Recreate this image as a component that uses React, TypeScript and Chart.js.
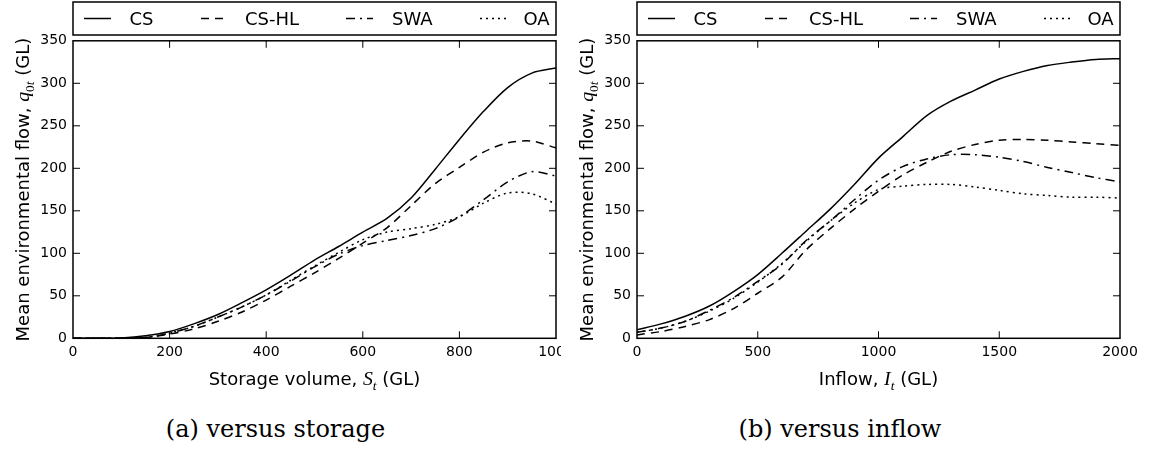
import React, { useEffect, useRef } from "react";
import { Chart, registerables } from "chart.js";

Chart.register(...registerables);

// ---------------- data ----------------
const seriesNames = ["CS", "CS-HL", "SWA", "OA"];

// (a) versus storage
const storageX = [0, 50, 100, 150, 200, 250, 300, 350, 400, 450, 500, 550, 600, 650, 700, 750, 800, 850, 900, 950, 1000];
const storageCS = [0, 0, 0.5, 3, 8, 17, 28, 42, 57, 74, 92, 108, 125, 141, 165, 199, 234, 267, 295, 312, 318];
const storageCSHL = [0, 0, 0, 1, 5, 11, 20, 31, 45, 61, 77, 94, 112, 130, 156, 182, 201, 219, 230, 232, 224];
const storageSWA = [0, 0, 0, 1, 6, 14, 25, 37, 51, 67, 84, 99, 109, 115, 121, 129, 143, 163, 184, 196, 191];
const storageOA = [0, 0, 0, 1, 6, 14, 25, 37, 51, 68, 85, 101, 116, 125, 129, 134, 143, 159, 171, 170, 158];

// (b) versus inflow
const inflowX = [0, 100, 200, 300, 400, 500, 600, 700, 800, 900, 1000, 1100, 1200, 1300, 1400, 1500, 1600, 1700, 1800, 1900, 2000];
const inflowCS = [10, 17, 26, 38, 55, 75, 100, 126, 152, 181, 212, 237, 262, 279, 292, 305, 314, 321, 325, 328, 329];
const inflowCSHL = [4, 8, 14, 22, 35, 53, 72, 104, 129, 152, 173, 192, 207, 220, 228, 233, 234, 233, 231, 229, 227];
const inflowSWA = [7, 12, 20, 33, 48, 67, 87, 115, 138, 163, 186, 202, 211, 216, 216, 213, 208, 201, 195, 189, 184];
const inflowOA = [7, 12, 20, 32, 47, 66, 88, 114, 138, 159, 175, 179, 181, 181, 178, 174, 170, 168, 166, 166, 165];

// tick labels
const storageTicks = [0, 200, 400, 600, 800, 1000];
const inflowTicks = [0, 500, 1000, 1500, 2000];
const flowTicks = [0, 50, 100, 150, 200, 250, 300, 350];

const captionA = "(a) versus storage";
const captionB = "(b) versus inflow";

// ---------------- styles ----------------
const DASHES = [[], [8, 6], [9, 5, 2, 5], [2, 4]];
const SANS = '"DejaVu Sans"';
const SAMPLE_OFF = [11, 128, 273, 407];
const TEXT_OFF = [56.5, 172, 319, 450.5];

type Seg = { t: string; k: "n" | "i" | "s" | "su" };

function segFont(k: string, size: number) {
  if (k === "n") return `${size}px ${SANS}`;
  if (k === "i") return `italic ${size * 1.1}px "Liberation Serif"`;
  if (k === "s") return `italic ${size * 0.75}px "Liberation Serif"`;
  return `${size * 0.75}px "Liberation Serif"`;
}

function drawRich(ctx: CanvasRenderingContext2D, segs: Seg[], size: number, cx: number, cy: number) {
  let w = 0;
  const widths = segs.map((s) => {
    ctx.font = segFont(s.k, size);
    const m = ctx.measureText(s.t).width;
    w += m;
    return m;
  });
  let x = cx - w / 2;
  segs.forEach((s, i) => {
    ctx.font = segFont(s.k, size);
    const dy = s.k === "s" || s.k === "su" ? size * 0.28 : 0;
    ctx.fillText(s.t, x, cy + dy);
    x += widths[i];
  });
}

const decorPlugin = {
  id: "mplDecor",
  afterDraw(chart: any, _args: any, opts: any) {
    const { ctx, chartArea: a, scales } = chart;
    const xs = scales.x;
    const ys = scales.y;
    ctx.save();
    ctx.strokeStyle = "#000";
    ctx.fillStyle = "#000";
    const TL = 7;
    ctx.lineWidth = 1;
    ctx.beginPath();
    xs.ticks.forEach((t: any) => {
      const px = xs.getPixelForValue(t.value);
      if (px <= a.left + 1 || px >= a.right - 1) return;
      ctx.moveTo(px, a.bottom);
      ctx.lineTo(px, a.bottom - TL);
      ctx.moveTo(px, a.top);
      ctx.lineTo(px, a.top + TL);
    });
    ys.ticks.forEach((t: any) => {
      const py = ys.getPixelForValue(t.value);
      if (py <= a.top + 1 || py >= a.bottom - 1) return;
      ctx.moveTo(a.left, py);
      ctx.lineTo(a.left + TL, py);
      ctx.moveTo(a.right, py);
      ctx.lineTo(a.right - TL, py);
    });
    ctx.stroke();
    ctx.lineWidth = 1.5;
    ctx.strokeRect(a.left, a.top, a.right - a.left, a.bottom - a.top);

    // legend
    const lt = 2;
    const lb = 35;
    ctx.strokeRect(a.left, lt, a.right - a.left, lb - lt);
    const midY = (lt + lb) / 2;
    chart.data.datasets.forEach((ds: any, i: number) => {
      const sx = a.left + SAMPLE_OFF[i];
      ctx.setLineDash(ds.borderDash || []);
      ctx.lineWidth = ds.borderWidth;
      ctx.beginPath();
      ctx.moveTo(sx, midY);
      ctx.lineTo(sx + 27, midY);
      ctx.stroke();
      ctx.setLineDash([]);
      ctx.font = `18px ${SANS}`;
      ctx.textAlign = "left";
      ctx.textBaseline = "alphabetic";
      ctx.fillText(ds.label, a.left + TEXT_OFF[i], midY + 6.5);
    });

    // axis titles
    ctx.textAlign = "left";
    ctx.textBaseline = "alphabetic";
    drawRich(ctx, opts.xTitle, 18, (a.left + a.right) / 2, a.bottom + 47);
    ctx.translate(a.left - 44, (a.top + a.bottom) / 2);
    ctx.rotate(-Math.PI / 2);
    drawRich(ctx, opts.yTitle, 18, 0, 0);
    ctx.restore();
  },
};

function makeConfig(
  xVals: number[],
  series: number[][],
  xMax: number,
  xTicks: number[],
  xTitle: Seg[],
  yTitle: Seg[],
  padding: any,
  yAxisW: number
): any {
  const tickFont = { family: "DejaVu Sans", size: 14 };
  return {
    type: "line",
    data: {
      datasets: series.map((ys, i) => ({
        label: seriesNames[i],
        data: xVals.map((x, j) => ({ x, y: ys[j] })),
        borderColor: "#000",
        borderWidth: 1.5,
        borderDash: DASHES[i],
        borderCapStyle: "butt",
        pointRadius: 0,
        fill: false,
        tension: 0.3,
      })),
    },
    options: {
      responsive: false,
      animation: false,
      events: [],
      layout: { padding },
      plugins: {
        legend: { display: false },
        tooltip: { enabled: false },
        mplDecor: { xTitle, yTitle },
      },
      scales: {
        x: {
          type: "linear",
          min: 0,
          max: xMax,
          afterBuildTicks: (s: any) => {
            s.ticks = xTicks.map((v) => ({ value: v }));
          },
          afterFit: (s: any) => {
            s.height = 20;
          },
          grid: { display: false, drawTicks: false, tickLength: 0 },
          border: { display: false },
          ticks: {
            color: "#000",
            font: tickFont,
            padding: 6,
            maxRotation: 0,
            autoSkip: false,
            callback: (v: any) => String(v),
          },
        },
        y: {
          type: "linear",
          min: 0,
          max: 350,
          afterBuildTicks: (s: any) => {
            s.ticks = flowTicks.map((v) => ({ value: v }));
          },
          afterFit: (s: any) => {
            s.width = yAxisW;
          },
          grid: { display: false, drawTicks: false, tickLength: 0 },
          border: { display: false },
          ticks: {
            color: "#000",
            font: tickFont,
            padding: 6,
            autoSkip: false,
            callback: (v: any) => String(v),
          },
        },
      },
    },
    plugins: [decorPlugin],
  };
}

const yTitleSegs: Seg[] = [
  { t: "Mean environmental flow, ", k: "n" },
  { t: "q", k: "i" },
  { t: "0", k: "su" },
  { t: "t", k: "s" },
  { t: " (GL)", k: "n" },
];
const xTitleA: Seg[] = [
  { t: "Storage volume, ", k: "n" },
  { t: "S", k: "i" },
  { t: "t", k: "s" },
  { t: " (GL)", k: "n" },
];
const xTitleB: Seg[] = [
  { t: "Inflow, ", k: "n" },
  { t: "I", k: "i" },
  { t: "t", k: "s" },
  { t: " (GL)", k: "n" },
];

export default function App() {
  const refA = useRef<HTMLCanvasElement>(null);
  const refB = useRef<HTMLCanvasElement>(null);

  useEffect(() => {
    const bottomPad = 400 - 338.3 - 20;
    const chartA = new Chart(
      refA.current as HTMLCanvasElement,
      makeConfig(
        storageX,
        [storageCS, storageCSHL, storageSWA, storageOA],
        1000,
        storageTicks,
        xTitleA,
        yTitleSegs,
        { left: 0, top: 40.8, right: 44, bottom: bottomPad },
        73
      )
    );
    const chartB = new Chart(
      refB.current as HTMLCanvasElement,
      makeConfig(
        inflowX,
        [inflowCS, inflowCSHL, inflowSWA, inflowOA],
        2000,
        inflowTicks,
        xTitleB,
        yTitleSegs,
        { left: 0, top: 40.8, right: 39, bottom: bottomPad },
        72
      )
    );
    return () => {
      chartA.destroy();
      chartB.destroy();
    };
  }, []);

  const captionStyle: React.CSSProperties = {
    position: "absolute",
    top: 417,
    fontFamily: '"DejaVu Serif", serif',
    fontSize: 24,
    lineHeight: "24px",
    textAlign: "center",
    color: "#000",
    whiteSpace: "nowrap",
  };

  return (
    <div
      style={{
        position: "fixed",
        left: 0,
        top: 0,
        width: 1159,
        height: 452,
        background: "#fff",
        overflow: "hidden",
      }}
    >
      <div style={{ position: "absolute", left: 0, top: 0, width: 561, height: 400, overflow: "hidden" }}>
        <canvas ref={refA} width={600} height={400} style={{ display: "block" }} />
      </div>
      <div style={{ position: "absolute", left: 565, top: 0, width: 594, height: 400, overflow: "hidden" }}>
        <canvas ref={refB} width={594} height={400} style={{ display: "block" }} />
      </div>
      <div style={{ ...captionStyle, left: 0, width: 551 }}>{captionA}</div>
      <div style={{ ...captionStyle, left: 560, width: 560 }}>{captionB}</div>
    </div>
  );
}
